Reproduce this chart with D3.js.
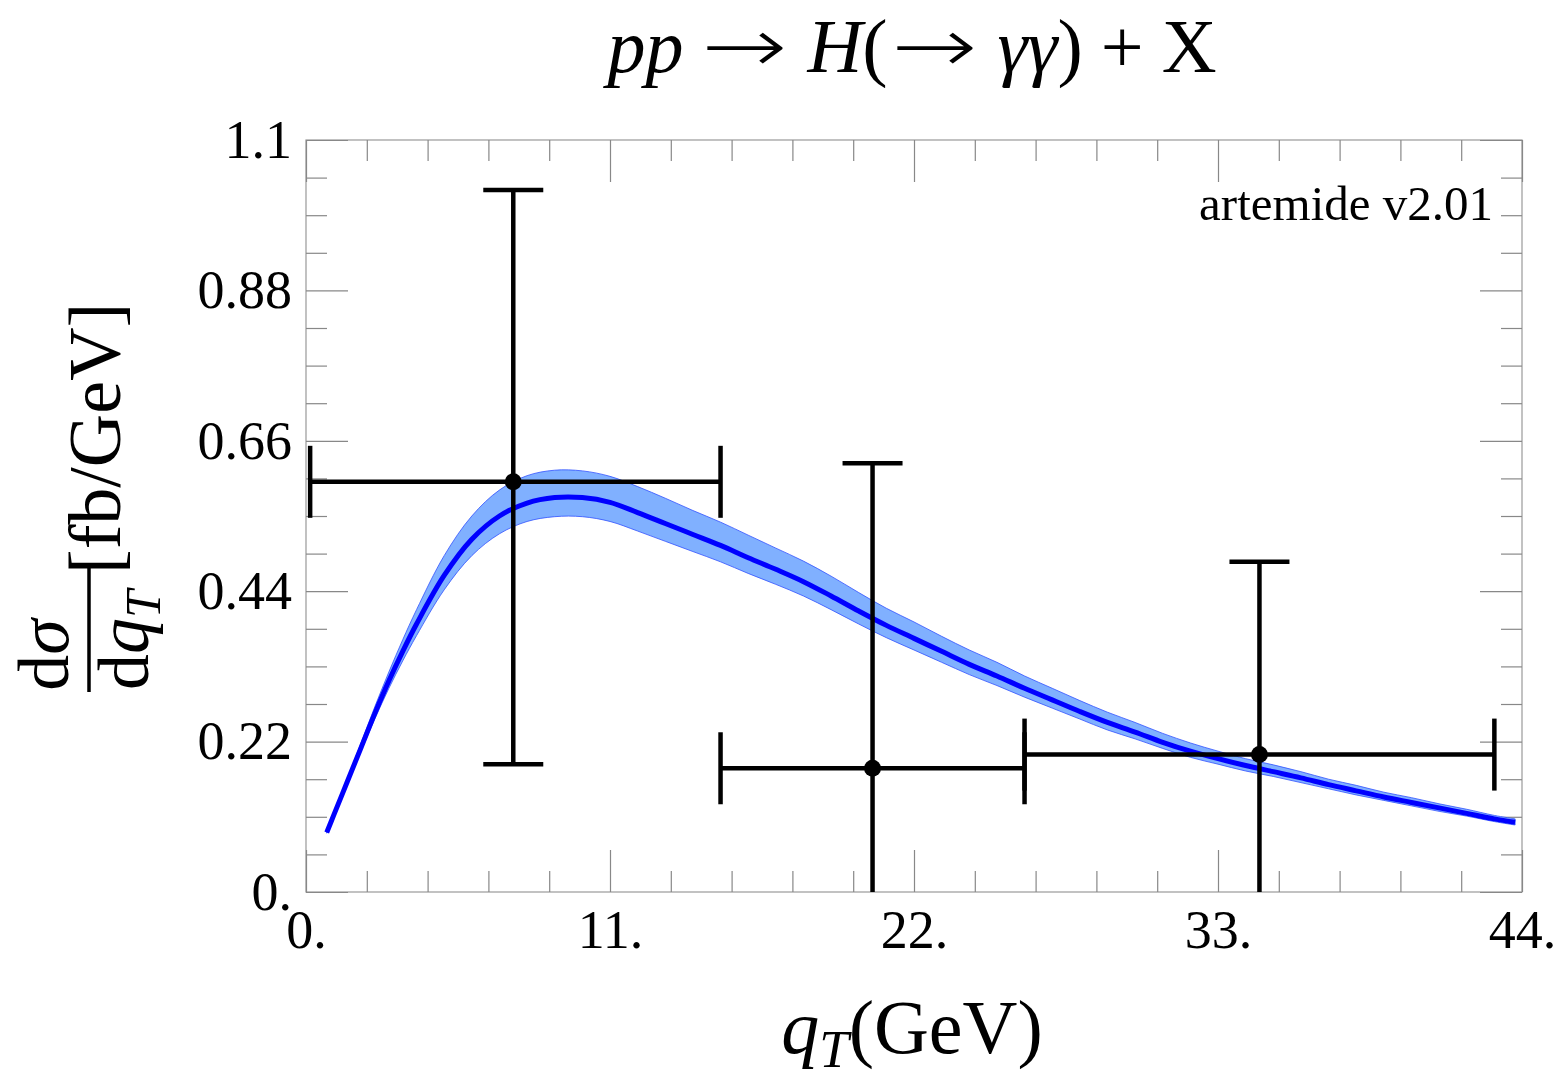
<!DOCTYPE html>
<html>
<head>
<meta charset="utf-8">
<script src="https://cdn.jsdelivr.net/npm/d3@7"></script>
<style>
  body { margin: 0; background: #fff; }
  svg { display: block; font-family: "Liberation Serif", "DejaVu Serif", serif; }
</style>
</head>
<body>
<div id="chart"></div>
<script>
// theory curve (artemide)
const qT = [0.75, 1, 1.5, 2, 2.5, 3, 3.5, 4, 5, 6, 7, 8, 9, 10, 11, 12, 13, 14, 15, 16, 17, 18, 19, 20,
  21, 22, 23, 24, 25, 26, 27, 28, 29, 30, 31, 32, 33, 34, 35, 36, 37, 38, 39, 40, 41, 42, 43, 43.75];
const central = [0.087, 0.112, 0.162, 0.212, 0.262, 0.309, 0.352, 0.392, 0.463, 0.516, 0.550, 0.569, 0.577, 0.577,
  0.570, 0.555, 0.539, 0.523, 0.507, 0.489, 0.472, 0.454, 0.433, 0.411, 0.390, 0.371, 0.352, 0.333, 0.316,
  0.298, 0.281, 0.264, 0.248, 0.234, 0.219, 0.206, 0.195, 0.185, 0.176, 0.167, 0.157, 0.148, 0.139, 0.131,
  0.123, 0.115, 0.107, 0.102];
const upper = [0.088, 0.114, 0.166, 0.219, 0.272, 0.322, 0.369, 0.413, 0.492, 0.550, 0.588, 0.609, 0.617, 0.616,
  0.608, 0.593, 0.576, 0.558, 0.541, 0.522, 0.503, 0.484, 0.462, 0.438, 0.415, 0.395, 0.374, 0.354, 0.336,
  0.316, 0.298, 0.280, 0.263, 0.248, 0.232, 0.218, 0.206, 0.195, 0.186, 0.176, 0.165, 0.156, 0.146, 0.138,
  0.129, 0.121, 0.112, 0.107];
const lower = [0.086, 0.110, 0.159, 0.207, 0.254, 0.298, 0.338, 0.375, 0.442, 0.492, 0.524, 0.542, 0.549, 0.549,
  0.542, 0.528, 0.513, 0.498, 0.483, 0.466, 0.450, 0.433, 0.413, 0.392, 0.372, 0.354, 0.336, 0.318, 0.302,
  0.285, 0.269, 0.253, 0.237, 0.224, 0.210, 0.197, 0.187, 0.177, 0.169, 0.160, 0.151, 0.142, 0.134, 0.126,
  0.118, 0.111, 0.103, 0.098];

// measured points
const dataX = [7.5, 20.5, 34.5];
const dataXlo = [0.15, 15, 26];
const dataXhi = [15, 26, 43];
const dataY = [0.600, 0.181, 0.201];
const dataYlo = [0.187, -0.05, -0.05];
const dataYhi = [1.027, 0.627, 0.483];

const xTicks = [0, 11, 22, 33, 44];
const xTickLabels = ["0.", "11.", "22.", "33.", "44."];
const yTicks = [0, 0.22, 0.44, 0.66, 0.88, 1.1];
const yTickLabels = ["0.", "0.22", "0.44", "0.66", "0.88", "1.1"];

const width = 1563, height = 1090;
const margin = { left: 306, right: 41, top: 140, bottom: 198 };
const w = width - margin.left - margin.right;
const h = height - margin.top - margin.bottom;

const x = d3.scaleLinear().domain([0, 44]).range([0, w]);
const y = d3.scaleLinear().domain([0, 1.1]).range([h, 0]);

const svg = d3.select("#chart").append("svg")
  .attr("width", width)
  .attr("height", height);

svg.append("defs").append("clipPath").attr("id", "clip")
  .append("rect").attr("width", w).attr("height", h);

const g = svg.append("g").attr("transform", `translate(${margin.left},${margin.top})`);

// frame
g.append("rect")
  .attr("width", w).attr("height", h)
  .attr("fill", "none").attr("stroke", "#999").attr("stroke-width", 1.2);

// ticks: major + minor, on all four sides
const xMinor = d3.range(0, 44.001, 2.2).filter(v => !xTicks.some(t => Math.abs(t - v) < 1e-6));
const yMinor = d3.range(0, 1.1001, 0.055).filter(v => !yTicks.some(t => Math.abs(t - v) < 1e-6));

function styleAxis(sel) {
  sel.select(".domain").remove();
  sel.selectAll(".tick line").attr("stroke", "#888").attr("stroke-width", 1.2);
  sel.selectAll("text").attr("font-size", 54).attr("fill", "#000")
    .attr("font-family", "Liberation Serif, DejaVu Serif, serif");
}

g.append("g").attr("transform", `translate(0,${h})`)
  .call(d3.axisBottom(x).tickValues(xTicks).tickSize(-42).tickPadding(18)
    .tickFormat((d, i) => xTickLabels[i]))
  .call(styleAxis);
g.append("g").attr("transform", `translate(0,${h})`)
  .call(d3.axisBottom(x).tickValues(xMinor).tickSize(-21).tickFormat(""))
  .call(styleAxis);
g.append("g")
  .call(d3.axisTop(x).tickValues(xTicks).tickSize(-42).tickFormat(""))
  .call(styleAxis);
g.append("g")
  .call(d3.axisTop(x).tickValues(xMinor).tickSize(-21).tickFormat(""))
  .call(styleAxis);

g.append("g")
  .call(d3.axisLeft(y).tickValues(yTicks).tickSize(-42).tickPadding(14)
    .tickFormat((d, i) => yTickLabels[i]))
  .call(styleAxis);
g.append("g")
  .call(d3.axisLeft(y).tickValues(yMinor).tickSize(-21).tickFormat(""))
  .call(styleAxis);
g.append("g").attr("transform", `translate(${w},0)`)
  .call(d3.axisRight(y).tickValues(yTicks).tickSize(-42).tickFormat(""))
  .call(styleAxis);
g.append("g").attr("transform", `translate(${w},0)`)
  .call(d3.axisRight(y).tickValues(yMinor).tickSize(-21).tickFormat(""))
  .call(styleAxis);

// band + central curve
const curve = qT.map((q, i) => ({ q: q, c: central[i], up: upper[i], lo: lower[i] }));

const plot = g.append("g").attr("clip-path", "url(#clip)");

plot.append("path")
  .datum(curve)
  .attr("d", d3.area().curve(d3.curveCatmullRom.alpha(0.5))
    .x(d => x(d.q)).y0(d => y(d.lo)).y1(d => y(d.up)))
  .attr("fill", "#80b0ff")
  .attr("stroke", "#3050ff")
  .attr("stroke-width", 0.8);

plot.append("path")
  .datum(curve)
  .attr("d", d3.line().curve(d3.curveCatmullRom.alpha(0.5)).x(d => x(d.q)).y(d => y(d.c)))
  .attr("fill", "none")
  .attr("stroke", "#0000ff")
  .attr("stroke-width", 5);

// error bars
const pts = dataX.map((v, i) => ({
  x: v, y: dataY[i], xlo: dataXlo[i], xhi: dataXhi[i], ylo: dataYlo[i], yhi: dataYhi[i]
}));

const eb = plot.selectAll(".pt").data(pts).enter().append("g")
  .attr("stroke", "#000").attr("stroke-width", 4.5).attr("fill", "none");

eb.append("line")
  .attr("x1", d => x(d.xlo)).attr("x2", d => x(d.xhi))
  .attr("y1", d => y(d.y)).attr("y2", d => y(d.y));
eb.append("line")
  .attr("x1", d => x(d.x)).attr("x2", d => x(d.x))
  .attr("y1", d => y(d.ylo)).attr("y2", d => y(d.yhi));
// caps
eb.each(function(d) {
  const s = d3.select(this);
  [d.xlo, d.xhi].forEach(v => s.append("line")
    .attr("x1", x(v)).attr("x2", x(v))
    .attr("y1", y(d.y) - 36).attr("y2", y(d.y) + 36));
  [d.ylo, d.yhi].forEach(v => s.append("line")
    .attr("x1", x(d.x) - 30).attr("x2", x(d.x) + 30)
    .attr("y1", y(v)).attr("y2", y(v)));
});

plot.selectAll(".dot").data(pts).enter().append("circle")
  .attr("cx", d => x(d.x)).attr("cy", d => y(d.y))
  .attr("r", 8.5).attr("fill", "#000");

// label inside
g.append("text")
  .attr("x", 1493 - margin.left).attr("y", 220 - margin.top)
  .attr("text-anchor", "end")
  .attr("font-size", 49)
  .text("artemide v2.01");

// title; arrows stretched a bit to look like math arrows
const title = svg.append("text")
  .attr("x", 912).attr("y", 72)
  .attr("text-anchor", "middle")
  .attr("font-size", 76);
title.append("tspan").attr("font-style", "italic").text("pp");
title.append("tspan").attr("font-family", "DejaVu Sans").attr("font-weight", 200)
  .attr("dx", 18).attr("textLength", 86).attr("lengthAdjust", "spacingAndGlyphs").text("\u2192");
title.append("tspan").attr("font-style", "italic").attr("dx", 20).text("H");
title.append("tspan").text("(");
title.append("tspan").attr("font-family", "DejaVu Sans").attr("font-weight", 200)
  .attr("dx", 4).attr("textLength", 86).attr("lengthAdjust", "spacingAndGlyphs").text("\u2192");
title.append("tspan").attr("font-style", "italic").attr("dx", 20).text("\u03b3\u03b3");
title.append("tspan").text(")");
title.append("tspan").attr("dx", 18).text("+");
title.append("tspan").attr("dx", 18).text("X");

// x axis label
const xl = svg.append("text")
  .attr("x", 912).attr("y", 1053)
  .attr("text-anchor", "middle")
  .attr("font-size", 76);
xl.append("tspan").attr("font-style", "italic").text("q");
xl.append("tspan").attr("font-style", "italic").attr("font-size", 53).attr("dy", 14).text("T");
xl.append("tspan").attr("dy", -14).text("(GeV)");

// y axis label (rotated)
const yl = svg.append("g").attr("transform", "rotate(-90)");
yl.append("text")
  .attr("x", -655).attr("y", 68)
  .attr("text-anchor", "middle")
  .attr("font-size", 72)
  .html('d<tspan font-style="italic">\u03c3</tspan>');
yl.append("line")
  .attr("x1", -692).attr("x2", -568)
  .attr("y1", 89).attr("y2", 89)
  .attr("stroke", "#000").attr("stroke-width", 3.5);
const den = yl.append("text")
  .attr("x", -640).attr("y", 148)
  .attr("text-anchor", "middle")
  .attr("font-size", 72);
den.append("tspan").text("d");
den.append("tspan").attr("font-style", "italic").text("q");
den.append("tspan").attr("font-style", "italic").attr("font-size", 50).attr("dy", 12).text("T");
yl.append("text")
  .attr("x", -574).attr("y", 120)
  .attr("text-anchor", "start")
  .attr("font-size", 74)
  .text("[fb/GeV]");
</script>
</body>
</html>
